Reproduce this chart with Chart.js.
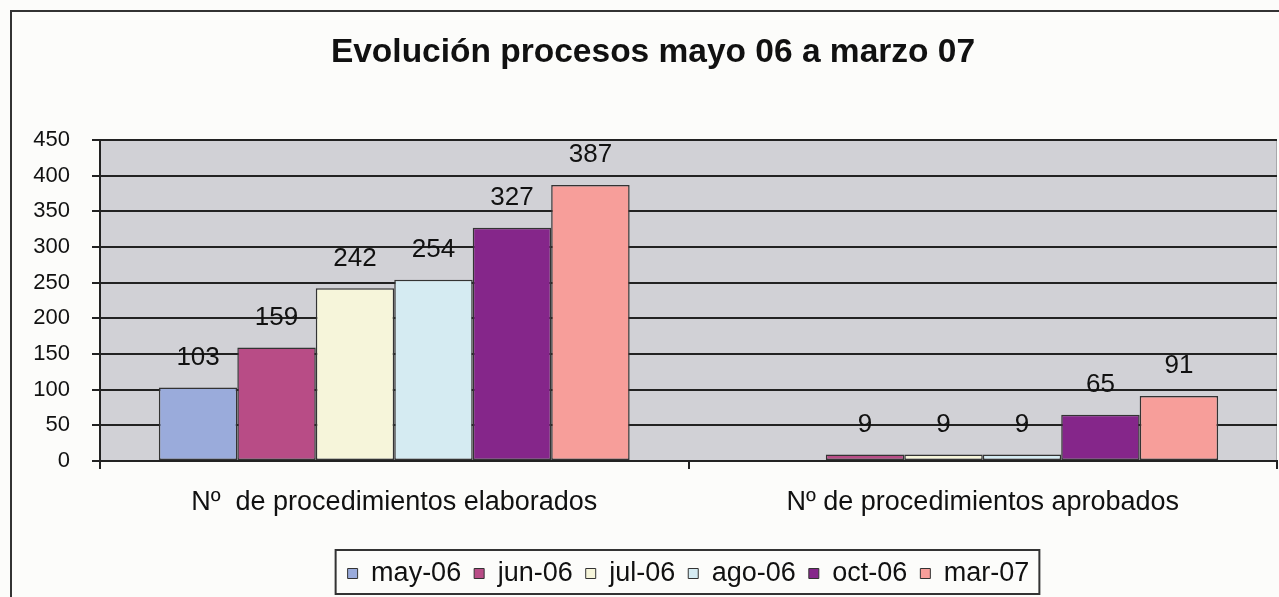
<!DOCTYPE html>
<html>
<head>
<meta charset="utf-8">
<script src="https://cdn.jsdelivr.net/npm/chart.js@4/dist/chart.umd.min.js"></script>
<style>
  html, body { margin: 0; padding: 0; background: #fcfcfa; }
  #wrap { position: relative; width: 1279px; height: 597px; overflow: hidden; }
  #frame { position: absolute; left: 10px; top: 10px; width: 1400px; height: 700px;
           border-left: 2px solid #333; border-top: 2px solid #333; }
  canvas { position: absolute; left: 0; top: 0; }
</style>
</head>
<body>
<div id="wrap">
  <div id="frame"></div>
  <canvas id="c" width="1279" height="597"></canvas>
</div>
<script>
const categories = ["Nº  de procedimientos elaborados", "Nº de procedimientos aprobados"];
const seriesNames = ["may-06", "jun-06", "jul-06", "ago-06", "oct-06", "mar-07"];
const may06 = [103, null];
const jun06 = [159, 9];
const jul06 = [242, 9];
const ago06 = [254, 9];
const oct06 = [327, 65];
const mar07 = [387, 91];
const yTicks = [0, 50, 100, 150, 200, 250, 300, 350, 400, 450];
const titleText = "Evolución procesos mayo 06 a marzo 07";

const seriesValues = [may06, jun06, jul06, ago06, oct06, mar07];
const colors = ["#9aabdb", "#b84c86", "#f6f5da", "#d5ebf2", "#85268a", "#f79e9a"];
const FONT = "'Liberation Sans', Arial, sans-serif";
const LEGEND_FONT = 27, LEGEND_PAD = 13;

const plotBg = {
  id: 'plotBg',
  beforeDraw(chart) {
    const a = chart.chartArea, ctx = chart.ctx;
    ctx.save();
    ctx.fillStyle = '#d1d1d6';
    ctx.fillRect(a.left, a.top, a.right - a.left, a.bottom - a.top);
    ctx.strokeStyle = '#a8a8ac';
    ctx.lineWidth = 1;
    ctx.beginPath();
    ctx.moveTo(a.left, a.top + 0.5); ctx.lineTo(a.right - 0.5, a.top + 0.5); ctx.lineTo(a.right - 0.5, a.bottom);
    ctx.stroke();
    ctx.restore();
  }
};

const titleDraw = {
  id: 'titleDraw',
  afterDraw(chart) {
    const ctx = chart.ctx;
    ctx.save();
    ctx.font = "bold 33.5px " + FONT;
    ctx.fillStyle = '#111';
    ctx.textAlign = 'center';
    ctx.textBaseline = 'middle';
    ctx.fillText(titleText, 653, 53);
    ctx.restore();
  }
};

const valueLabels = {
  id: 'valueLabels',
  afterDatasetsDraw(chart) {
    const ctx = chart.ctx;
    ctx.save();
    ctx.font = "26px " + FONT;
    ctx.fillStyle = '#111';
    ctx.textAlign = 'center';
    ctx.textBaseline = 'middle';
    chart.data.datasets.forEach((ds, i) => {
      const meta = chart.getDatasetMeta(i);
      meta.data.forEach((el, j) => {
        const v = ds.data[j];
        if (v === null || v === undefined) return;
        ctx.fillText(String(v), el.x, el.y - 30);
      });
    });
    ctx.restore();
  }
};

const legendBox = {
  id: 'legendBox',
  afterDraw(chart) {
    const lg = chart.legend;
    if (!lg || !lg.legendHitBoxes || !lg.legendHitBoxes.length) return;
    const hb = lg.legendHitBoxes;
    const first = hb[0], last = hb[hb.length - 1];
    const left = first.left - 12;
    const right = last.left + last.width + 10;
    const top = 550;
    const bottom = 594;
    const ctx = chart.ctx;
    ctx.save();
    ctx.strokeStyle = '#333';
    ctx.lineWidth = 2;
    ctx.strokeRect(left, top, right - left, bottom - top);
    ctx.restore();
  }
};

new Chart(document.getElementById('c'), {
  type: 'bar',
  data: {
    labels: categories,
    datasets: seriesNames.map((n, i) => ({
      label: n,
      data: seriesValues[i],
      backgroundColor: colors[i],
      borderColor: '#333',
      borderWidth: 1.5,
      borderSkipped: false,
      categoryPercentage: 0.8,
      barPercentage: 1.0
    }))
  },
  options: {
    responsive: false,
    animation: false,
    devicePixelRatio: 1,
    layout: { padding: { left: 0, right: 2, top: 140, bottom: 0 } },
    plugins: {
      title: { display: false },
      legend: {
        position: 'bottom',
        fullSize: false,
        labels: {
          color: '#111',
          font: { family: FONT, size: LEGEND_FONT },
          boxWidth: 10,
          boxHeight: 10,
          padding: LEGEND_PAD,
          generateLabels(chart) {
            return chart.data.datasets.map((ds, i) => ({
              text: ds.label,
              fillStyle: ds.backgroundColor,
              strokeStyle: '#333',
              lineWidth: 1,
              datasetIndex: i,
              fontColor: '#111'
            }));
          }
        }
      },
      tooltip: { enabled: false }
    },
    scales: {
      x: {
        offset: true,
        grid: { offset: true, drawOnChartArea: false, drawTicks: true, tickLength: 8, color: '#222', lineWidth: 2 },
        border: { display: true, color: '#222', width: 2 },
        ticks: { color: '#111', font: { family: FONT, size: 27 }, padding: 17, maxRotation: 0, autoSkip: false },
        afterFit(scale) {
          scale.height = 597 - (LEGEND_FONT + LEGEND_PAD + 10) - 461;
        }
      },
      y: {
        min: 0,
        max: 450,
        afterBuildTicks(scale) { scale.ticks = yTicks.map(v => ({ value: v })); },
        grid: { color: '#222', lineWidth: 2, drawTicks: true, tickLength: 8 },
        border: { display: true, color: '#222', width: 2 },
        ticks: { color: '#111', font: { family: FONT, size: 22 }, padding: 22 },
        afterFit(scale) { scale.width = 100; }
      }
    }
  },
  plugins: [plotBg, valueLabels, legendBox, titleDraw]
});
</script>
</body>
</html>
